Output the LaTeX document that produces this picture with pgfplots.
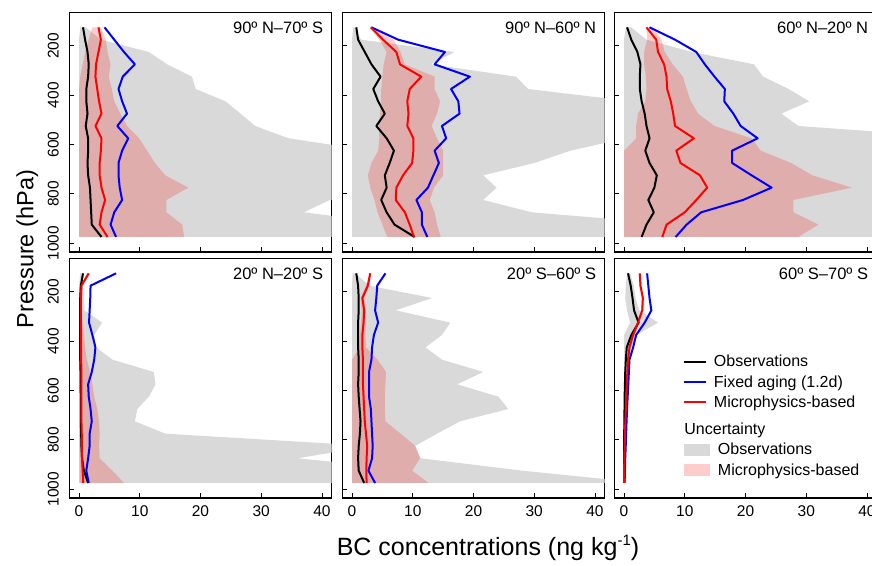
\documentclass[border=0pt]{standalone}
\usepackage{fontspec}
\setmainfont{Liberation Sans}
\usepackage{pgfplots}
\usepackage{pgfplotstable}
\pgfplotsset{compat=1.18}

% profiles: pressure (hPa), observations, fixed aging (1.2d), microphysics-based
\pgfplotstableread{
p obs fix mic
125 0.66 4.2 3.2
175 1.0 5.8 3.6
225 1.4 7.4 3.2
275 1.6 9.2 2.8
325 1.5 7.2 2.7
375 1.2 6.5 3.0
425 1.2 7.1 3.3
475 1.4 7.9 3.7
525 1.1 6.3 2.7
575 1.5 8.1 3.7
625 1.5 7.1 3.6
675 1.4 6.5 3.4
725 1.5 6.5 3.4
775 1.8 6.7 3.7
825 1.9 7.1 4.3
875 2.0 5.8 3.7
925 2.1 5.2 3.4
975 3.7 6.1 4.7
}\tA
\pgfplotstableread{
p obs fix mic
125 0.7 3.2 3.1
175 1.0 7.6 5.1
225 2.1 15.3 7.3
275 3.2 13.6 7.9
325 4.7 19.4 11.4
375 3.5 16.3 9.5
425 4.3 17.5 9.1
475 5.4 17.7 9.3
525 4.0 14.8 9.1
575 5.7 15.5 10.1
625 6.9 13.6 10.1
675 6.2 14.3 9.9
725 5.4 13.4 8.4
775 5.7 12.5 7.3
825 4.8 10.6 7.2
875 5.7 11.5 8.7
925 7.0 11.5 9.5
975 10.3 12.4 10.2
}\tB
\pgfplotstableread{
p obs fix mic
125 0.5 4.2 3.7
175 1.2 8.4 5.3
225 2.2 11.9 5.6
275 2.7 13.3 6.6
325 2.6 14.9 7.0
375 2.6 16.6 7.1
425 2.9 16.5 7.7
475 3.4 18.0 8.1
525 3.7 19.2 8.4
575 4.2 22.0 11.5
625 3.5 17.8 8.6
675 4.2 17.8 9.3
725 5.4 21.0 12.5
775 5.0 24.3 13.7
825 4.0 19.6 11.9
875 4.9 12.7 10.0
925 3.7 10.3 7.0
975 2.9 8.5 6.3
}\tC
\pgfplotstableread{
p obs fix mic
125 0.66 6.1 1.6
175 0.3 1.9 0.4
225 0.2 1.85 0.3
275 0.2 1.75 0.3
325 0.2 1.65 0.3
375 0.2 2.2 0.35
425 0.2 2.7 0.35
475 0.2 2.5 0.35
525 0.25 2.1 0.4
575 0.25 1.5 0.4
625 0.3 1.6 0.4
675 0.3 1.9 0.4
725 0.3 2.1 0.4
775 0.35 1.75 0.45
825 0.4 1.75 0.45
875 0.5 1.5 0.5
925 0.8 1.2 0.6
975 1.5 1.6 0.7
}\tD
\pgfplotstableread{
p obs fix mic
125 0.7 5.5 3.0
175 1.0 4.15 2.6
225 1.1 4.0 1.7
275 1.1 3.8 2.0
325 1.0 4.3 1.9
375 1.0 3.6 1.7
425 1.0 3.3 1.7
475 1.1 3.2 1.8
525 1.1 2.8 1.8
575 1.0 2.8 1.8
625 1.1 2.8 1.9
675 1.25 3.1 2.0
725 1.4 3.2 2.1
775 1.3 3.3 2.3
825 1.1 3.4 2.5
875 1.0 3.3 2.4
925 1.1 2.7 2.35
975 2.0 3.8 2.4
}\tE
\pgfplotstableread{
p obs fix mic
125 0.66 3.8 2.6
175 1.1 4.0 2.7
225 1.4 4.2 3.1
275 1.65 4.5 3.0
325 2.4 3.4 2.3
375 1.2 2.0 1.5
425 0.45 1.5 0.9
475 0.3 0.9 0.66
525 0.2 0.8 0.55
575 0.15 0.7 0.45
625 0.1 0.6 0.35
675 0.08 0.5 0.3
725 0.05 0.42 0.22
775 0.03 0.35 0.15
825 0.02 0.28 0.1
875 0.01 0.2 0.05
925 0 0.15 0.02
975 0 0.1 0
}\tF

\pgfplotsset{
  panel/.style={
    scale only axis, width=262.4pt, height=239.7pt,
    xmin=-1.6, xmax=41.6, ymin=64, ymax=1036, y dir=reverse,
    xtick={0,10,20,30,40}, ytick={200,400,600,800,1000},
    tick align=inside, major tick length=5pt,
    xtick pos=left, ytick pos=left,
    major tick style={black, line width=0.9pt},
    axis line style={line width=1.1pt},
    tick label style={font=\fontsize{15.5}{18}\selectfont},
    /pgf/number format/assume math mode=true,
    /pgf/number format/1000 sep={},
    yticklabel style={rotate=90, anchor=south},
    yticklabel shift=7pt, xticklabel shift=4.5pt,
    anchor=north west,
  },
  nox/.style={xticklabels={}},
  noy/.style={yticklabels={}},
  obsunc/.style={fill=black!15, draw=none, forget plot},
  micunc/.style={fill=red, fill opacity=0.2, draw=none, forget plot},
}
\tikzset{ptitle/.style={anchor=base east, inner sep=0pt, xshift=-8.4pt, yshift=-21pt, font=\fontsize{16.5}{20}\selectfont}}

\newcommand{\lines}[1]{%
  \addplot[black, line width=2pt, line join=round, forget plot] table[x=obs,y=p]{#1};
  \addplot[blue, line width=2pt, line join=round, forget plot] table[x=fix,y=p]{#1};
  \addplot[red, line width=2pt, line join=round, forget plot] table[x=mic,y=p]{#1};
}

\newcommand{\LS}{\rule[-4pt]{0pt}{16pt}}

\begin{document}
\begin{tikzpicture}
% ---------------- top row
\begin{axis}[panel, nox, at={(69.3pt,552.7pt)}]
  \addplot[obsunc] coordinates {(0.2,125)(0,175)(0,975)
    (60,975)(53,925)(37,875)(41.3,825)(60,775)(60,725)(60,675)(48,625)(34.5,575)(29,525)(26.6,475)(24.1,425)(19.2,375)(18.6,325)(14.5,275)(11.5,225)(3.6,175)(1.1,125)};
  \addplot[micunc] coordinates {(2.2,125)(1.6,175)(1.0,225)(0.6,275)(0.2,325)(0,375)(0,975)
    (17.3,975)(17,925)(14.4,875)(14.4,825)(18,775)(14.2,725)(12.5,675)(11.2,625)(9.9,575)(7.9,525)(6.8,475)(5.8,425)(5.4,375)(4.9,325)(5.2,275)(4.7,225)(4.4,175)(3.6,125)};
  \lines{\tA}
  \node[ptitle] at (axis description cs:1,1) {90º N–70º S};
\end{axis}
\begin{axis}[panel, nox, noy, at={(342.3pt,552.7pt)}]
  \addplot[obsunc] coordinates {(0.2,125)(0,175)(0,975)
    (60,975)(54,925)(29.6,875)(21.6,825)(23.8,775)(21.6,725)(30,675)(36,625)(45,575)(60,525)(60,475)(46,425)(29,375)(27,325)(13.0,275)(16.9,225)(1.5,175)(0.4,125)};
  \addplot[micunc] coordinates {(2.9,125)(4.5,175)(5.7,225)(5.2,275)(5.0,325)(4.8,375)(4.8,425)(4.6,475)(4.4,525)(4.5,575)(4.3,625)(3.2,675)(2.6,725)(3.0,775)(3.7,825)(4.2,875)(5.0,925)(5.8,975)
    (14.6,975)(14.0,925)(13.6,875)(12.8,825)(13.5,775)(15.0,725)(15.0,675)(15.0,625)(14.0,575)(13.1,525)(14.0,475)(14.5,425)(13.6,375)(13.6,325)(8.7,275)(8.0,225)(6.8,175)(3.3,125)};
  \lines{\tB}
  \node[ptitle] at (axis description cs:1,1) {90º N–60º N};
\end{axis}
\begin{axis}[panel, nox, noy, at={(614.3pt,552.7pt)}]
  \addplot[obsunc] coordinates {(0.3,125)(0,175)(0,975)
    (60,975)(60,625)(57,575)(28.7,525)(25.9,475)(30.5,425)(27.1,375)(22.9,325)(21.4,275)(11.2,225)(3.7,175)(1.2,125)};
  \addplot[micunc] coordinates {(3.7,125)(3.8,175)(3.3,225)(3.3,275)(3.6,325)(3.7,375)(3.5,425)(2.3,475)(2.0,525)(2.0,575)(0,625)(0,975)
    (28.7,975)(32.0,925)(27.9,875)(27.9,825)(37.5,775)(31.0,725)(27.5,675)(22.5,625)(21.0,575)(14.9,525)(12.2,475)(11.0,425)(10.3,375)(9.7,325)(8.0,275)(6.7,225)(6.2,175)(4.8,125)};
  \lines{\tC}
  \node[ptitle] at (axis description cs:1,1) {60º N–20º N};
\end{axis}
% ---------------- bottom row
\begin{axis}[panel, at={(69.3pt,306.7pt)}]
  \addplot[obsunc] coordinates {(0.2,125)(0,175)(0,975)
    (60,975)(56,925)(36,875)(48,825)(14.2,775)(9.2,725)(9.6,675)(11.5,625)(12.6,575)(12.3,525)(5.5,475)(2.8,425)(2.5,375)(3.8,325)(0.9,275)(0.8,225)(0.6,175)(0.4,125)};
  \addplot[micunc] coordinates {(1.3,125)(0.2,175)(0.1,225)(0.1,975)
    (7.4,975)(5.5,925)(3.4,875)(3.3,825)(3.4,775)(3.3,725)(3.0,675)(2.5,625)(2.2,575)(1.8,525)(1.3,475)(1.0,425)(0.8,375)(0.6,325)(0.5,275)(0.5,225)(0.6,175)(1.8,125)};
  \lines{\tD}
  \node[ptitle] at (axis description cs:1,1) {20º N–20º S};
\end{axis}
\begin{axis}[panel, noy, at={(342.3pt,306.7pt)}]
  \addplot[obsunc] coordinates {(0.1,125)(0,175)(0,975)
    (48,975)(28,925)(11.3,875)(10.4,825)(14,775)(17.8,725)(25.7,675)(24.1,625)(17.3,575)(21.6,525)(14.8,475)(12.1,425)(14.8,375)(16.2,325)(7.2,275)(13.2,225)(2.8,175)(0.6,125)};
  \addplot[micunc] coordinates {(2.8,125)(2.3,175)(1.4,225)(1.6,275)(1.5,325)(1.3,375)(1.2,425)(0,475)(0,975)
    (12.6,975)(9.9,925)(11.2,875)(10.4,825)(8.0,775)(5.5,725)(5.4,675)(5.4,625)(5.5,575)(5.6,525)(4.2,475)(2.3,425)(2.2,375)(2.3,325)(2.3,275)(2.0,225)(2.9,175)(3.2,125)};
  \lines{\tE}
  \node[ptitle] at (axis description cs:1,1) {20º S–60º S};
\end{axis}
\begin{axis}[panel, noy, at={(614.3pt,306.7pt)},
    legend style={draw=none, fill=none, at={(0.26,0.602)}, anchor=north west,
      font=\fontsize{16}{19}\selectfont, inner sep=0pt, row sep=4.8pt, column sep=4pt,
      nodes={inner sep=1pt}},
    legend cell align=left]
  \addplot[obsunc] coordinates {(0.5,125)(0.3,175)(0.2,225)(0.5,275)(1.0,325)(0,375)(0,975)
    (0.1,975)(0.2,925)(0.3,875)(0.4,825)(0.4,775)(0.5,725)(0.5,675)(0.6,625)(0.7,575)(0.8,525)(0.9,475)(1.2,425)(2.0,375)(5.6,325)(2.5,275)(1.9,225)(1.6,175)(1.0,125)};
  \addplot[micunc] coordinates {(2.4,125)(2.5,175)(2.9,225)(2.8,275)(2.1,325)(1.3,375)(0.7,425)(0.5,475)(0.4,525)(0.3,575)(0.2,625)(0.15,675)(0.1,725)(0.05,775)(0,825)(0,975)
    (0.02,975)(0.05,925)(0.1,875)(0.2,825)(0.25,775)(0.35,725)(0.45,675)(0.5,625)(0.6,575)(0.7,525)(0.8,475)(1.1,425)(1.7,375)(2.5,325)(3.2,275)(3.3,225)(2.9,175)(2.8,125)};
  \lines{\tF}
  \node[ptitle] at (axis description cs:1,1) {60º S–70º S};
  \addlegendimage{legend image code/.code={\draw[black, line width=2pt] (0pt,0pt) -- (22pt,0pt);}}
  \addlegendentry{\LS Observations}
  \addlegendimage{legend image code/.code={\draw[blue, line width=2pt] (0pt,0pt) -- (22pt,0pt);}}
  \addlegendentry{\LS Fixed aging (1.2d)}
  \addlegendimage{legend image code/.code={\draw[red, line width=2pt] (0pt,0pt) -- (22pt,0pt);}}
  \addlegendentry{\LS Microphysics-based}
  \addlegendimage{empty legend}
  \addlegendentry{\hspace*{-29.5pt}\rule[-4pt]{0pt}{22.8pt}Uncertainty}
  \addlegendimage{legend image code/.code={\fill[black!15] (0pt,-5.5pt) rectangle (25pt,5.5pt);}}
  \addlegendentry{\hspace*{4pt}\LS Observations}
  \addlegendimage{legend image code/.code={\fill[red!20] (0pt,-5.5pt) rectangle (25pt,5.5pt);}}
  \addlegendentry{\hspace*{4pt}\LS Microphysics-based}
\end{axis}
% axis titles
\node[rotate=90, anchor=base, font=\fontsize{23.5}{28}\selectfont] at (33.3pt,316pt) {Pressure (hPa)};
\node[anchor=base, font=\fontsize{25}{30}\selectfont] at (488pt,9.3pt) {BC concentrations (ng kg\raisebox{0.75ex}{\fontsize{15}{17}\selectfont -1})};
\pgfresetboundingbox
\path[use as bounding box] (0pt,0pt) rectangle (872pt,565pt);
\end{tikzpicture}
\end{document}
